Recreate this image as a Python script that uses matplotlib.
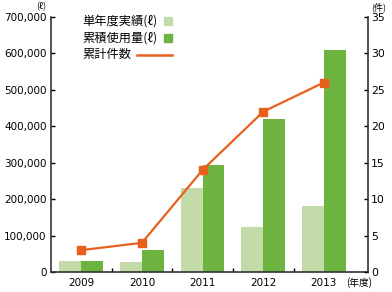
import matplotlib
matplotlib.use('Agg')
import matplotlib.pyplot as plt
import matplotlib.patches as mpatches
import matplotlib.lines as mlines
import numpy as np

plt.rcParams['font.family'] = ['DejaVu Sans', 'Noto Sans CJK JP']

years = ['2009', '2010', '2011', '2012', '2013']
single_year = [30000, 28000, 231000, 123000, 182000]
cumulative = [30000, 59000, 294000, 420000, 609000]
count = [3, 4, 14, 22, 26]
labels = ['単年度実績(ℓ)', '累積使用量(ℓ)', '累計件数']

light = '#c2dba8'
dark = '#6cb33f'
orange = '#e8601c'
jp = ['Noto Sans CJK JP', 'DejaVu Sans']

x = np.arange(len(years))
width = 0.36

fig = plt.figure(figsize=(3.92, 2.92), dpi=100)
ax = fig.add_axes([0.130, 0.0685, 0.809, 0.8735])
ax.bar(x - width / 2, single_year, width, color=light)
ax.bar(x + width / 2, cumulative, width, color=dark)
ax.set_xlim(-0.5, 4.73)
ax.set_ylim(0, 700000)
ax.set_yticks(range(0, 700001, 100000))
ax.set_yticklabels(['0'] + ['{:,}'.format(v) for v in range(100000, 700001, 100000)])
ax.set_xticks(x)
ax.set_xticklabels(years)
ax.set_xticks(np.arange(0.5, 4, 1), minor=True)
ax.tick_params(axis='x', which='major', length=0, labelsize=7.5, pad=4)
ax.tick_params(axis='x', which='minor', direction='in', length=3, width=1)
ax.tick_params(axis='y', direction='in', length=3, width=1, labelsize=7.5, pad=3)
ax.spines['top'].set_visible(False)
ax.spines['right'].set_visible(False)
for s in ['left', 'bottom']:
    ax.spines[s].set_linewidth(1.2)
    ax.spines[s].set_color('#333333')

ax2 = ax.twinx()
ax2.plot(x, count, color=orange, lw=1.6, marker='s', markersize=6)
ax2.set_ylim(0, 35)
ax2.set_yticks(range(0, 36, 5))
ax2.tick_params(axis='y', direction='in', length=3, width=1, labelsize=7.8, pad=2)
ax2.spines['top'].set_visible(False)
ax2.spines['left'].set_visible(False)
ax2.spines['bottom'].set_visible(False)
ax2.spines['right'].set_linewidth(1.2)
ax2.spines['right'].set_color('#333333')

fig.text(0.104, 0.978, '(ℓ)', fontsize=6.5, ha='center', va='center', family=jp)
fig.text(0.965, 0.975, '(件)', fontsize=6.5, ha='center', va='center', family=jp)
fig.text(0.916, 0.032, '(年度)', fontsize=7, ha='center', va='center', family=jp)

# legend: labels on the left, keys on the right
rows = [0.928, 0.870, 0.812]
for lab, yy in zip(labels, rows):
    fig.text(0.210, yy, lab, fontsize=8.8, ha='left', va='center', family=jp)
for col, yy in zip([light, dark], rows[:2]):
    fig.patches.append(mpatches.Rectangle((0.418, yy - 0.0137), 0.0204, 0.0274,
                                          color=col, transform=fig.transFigure))
fig.lines.append(mlines.Line2D([0.349, 0.439], [rows[2], rows[2]], color=orange,
                               lw=1.8, transform=fig.transFigure))

fig.savefig('out.png', dpi=100)
